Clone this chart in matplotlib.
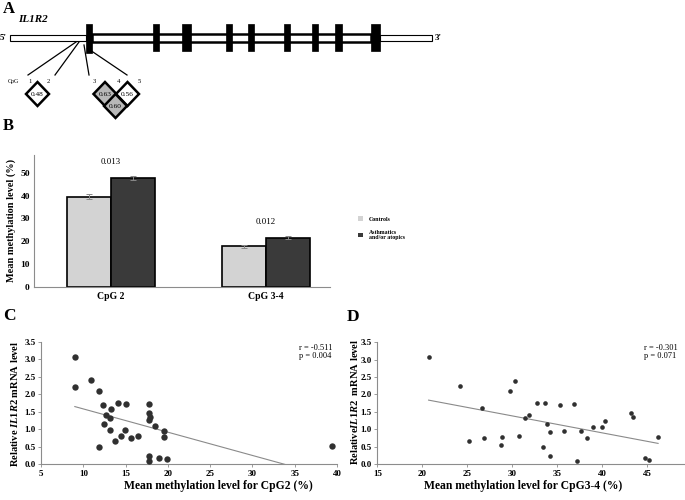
import numpy as np
import matplotlib
matplotlib.use("Agg")
import matplotlib.pyplot as plt
from matplotlib.patches import Rectangle, Polygon

plt.rcParams['font.family'] = ['Liberation Serif', 'DejaVu Serif']
plt.rcParams['mathtext.fontset'] = 'custom'
plt.rcParams['mathtext.it'] = 'Liberation Serif:italic:bold'
plt.rcParams['mathtext.rm'] = 'Liberation Serif:bold'

W, H = 685, 500

# A: gene schematic (pixel layout of the drawing)
exons = [(86, 92), (153, 159), (182, 191), (226, 232), (248, 254),
         (284, 290), (312, 318), (335, 342), (371, 380)]
cpg_sites = ['1', '2', '3', '4', '5']
cpg_label_x = [30, 48, 94, 119, 139]
ld_pairs = [(0, 1), (2, 3), (3, 4), (2, 4)]
ld_values = [0.48, 0.63, 0.56, 0.60]

# B: mean methylation
groups = ['CpG 2', 'CpG 3-4']
controls = [39.6, 17.7]
controls_err = [1.0, 0.8]
asthmatics = [47.8, 21.6]
asthmatics_err = [1.0, 0.7]
p_values = ['0.013', '0.012']

# C: CpG2 vs mRNA
cpg2_meth = [9.0, 9.0, 10.9, 11.8, 11.8, 12.3, 12.5, 12.7, 13.1, 13.3, 13.1, 13.7,
             14.1, 14.5, 14.9, 15.0, 15.7, 16.5, 17.8, 17.8, 17.9, 17.8, 17.8, 17.8,
             18.5, 19.0, 19.6, 19.5, 19.9, 39.4]
cpg2_mrna = [3.06, 2.22, 2.40, 2.10, 0.48, 1.69, 1.16, 1.41, 1.32, 1.59, 0.97, 0.67,
             1.75, 0.79, 0.97, 1.72, 0.74, 0.80, 1.71, 1.47, 1.35, 1.26, 0.24, 0.09,
             1.08, 0.18, 0.96, 0.77, 0.14, 0.53]

# D: CpG3-4 vs mRNA
cpg34_meth = [20.7, 24.2, 26.6, 25.2, 26.9, 28.7, 28.8, 29.7, 30.3, 30.7, 31.4, 31.9,
              32.7, 33.4, 33.6, 33.8, 34.2, 34.2, 35.3, 35.7, 36.9, 37.2, 37.6, 38.3,
              39.0, 40.0, 40.3, 43.2, 43.4, 44.7, 45.2, 46.2]
cpg34_mrna = [3.07, 2.24, 1.60, 0.65, 0.74, 0.54, 0.79, 2.11, 2.40, 0.81, 1.32, 1.41,
              1.74, 0.49, 1.74, 1.15, 0.24, 0.93, 1.70, 0.96, 1.72, 0.10, 0.96, 0.74,
              1.07, 1.06, 1.25, 1.46, 1.35, 0.18, 0.12, 0.79]

fig = plt.figure(figsize=(W / 100, H / 100), dpi=100)


def px_axes(x0, y0, x1, y1):
    return fig.add_axes([x0 / W, 1 - y1 / H, (x1 - x0) / W, (y1 - y0) / H])


# ---- panel A, drawn in pixel space
ax_a = fig.add_axes([0, 0, 1, 1])
ax_a.set_xlim(0, W)
ax_a.set_ylim(H, 0)
ax_a.axis('off')

ax_a.add_patch(Rectangle((10, 35), exons[0][0] - 10, 6, fc='white', ec='black', lw=0.8))
ax_a.add_patch(Rectangle((exons[-1][1], 35), 432 - exons[-1][1], 6, fc='white', ec='black', lw=0.8))
ax_a.add_patch(Rectangle((exons[0][1], 33.8), exons[-1][0] - exons[0][1], 8.4,
                         fc='white', ec='black', lw=1.8))
for i, (x0, x1) in enumerate(exons):
    bottom = 53 if i == 0 else 51
    ax_a.add_patch(Rectangle((x0, 24), x1 - x0, bottom - 24, fc='black', ec='black', lw=0.5))

ax_a.text(3, 9, 'A', fontsize=12, fontweight='bold', va='center')
ax_a.text(18, 19, 'IL1R2', fontsize=8, fontweight='bold', style='italic', va='center')
ax_a.text(0, 38, "5'", fontsize=6.5, fontweight='bold', va='center')
ax_a.text(435, 38, "3'", fontsize=6.5, fontweight='bold', va='center')

for (sx, sy), lx in zip([(76, 42), (79, 42), (84, 45), (90, 50)], [28, 55, 89, 127]):
    ax_a.plot([sx, lx], [sy, 75], color='black', lw=0.9)

ax_a.text(8, 82, 'CpG', fontsize=4.3, va='center')
for lab, lx in zip(cpg_sites, cpg_label_x):
    ax_a.text(lx, 81.5, lab, fontsize=4.8, ha='center', va='center')

hw, hh = 11.5, 12
for (i, j), v in zip(ld_pairs, ld_values):
    cx = (cpg_label_x[i] + cpg_label_x[j]) / 2 - 1.5
    if j - i > 1:
        cx = (cpg_label_x[i] + cpg_label_x[j]) / 2 - 1
    cy = 94 + hh * (j - i - 1)
    fc = '#b8b8b8' if v >= 0.6 else 'white'
    ax_a.add_patch(Polygon([(cx - hw, cy), (cx, cy - hh), (cx + hw, cy), (cx, cy + hh)],
                           closed=True, fc=fc, ec='black', lw=1.8, joinstyle='miter'))
    ax_a.text(cx, cy, f'{v:.2f}', fontsize=5.3, ha='center', va='center')

# ---- panel B
ax_a.text(3, 126, 'B', fontsize=12, fontweight='bold', va='center')
ax_b = px_axes(34, 155, 330, 286.5)
pos = np.arange(len(groups))
bw = 0.285
bars_c = ax_b.bar(pos - bw / 2, controls, bw, color='#d3d3d3', edgecolor='black', lw=1.2,
                  label='Controls', zorder=2)
bars_a = ax_b.bar(pos + bw / 2, asthmatics, bw, color='#3a3a3a', edgecolor='black', lw=1.2,
                  label='Asthmatics\nand/or atopics', zorder=2)
ax_b.errorbar(pos - bw / 2, controls, yerr=controls_err, fmt='none', ecolor='#888888',
              capsize=2, lw=0.7, capthick=0.7, zorder=3)
ax_b.errorbar(pos + bw / 2, asthmatics, yerr=asthmatics_err, fmt='none', ecolor='#888888',
              capsize=2, lw=0.7, capthick=0.7, zorder=3)
for p, c, a, ae, txt in zip(pos, controls, asthmatics, asthmatics_err, p_values):
    ax_b.text(p, max(c, a + ae) + 6.3, txt, fontsize=6.4, ha='center', va='center')
ax_b.set_xlim(-0.498, 1.416)
ax_b.set_ylim(0, 58)
ax_b.set_yticks(range(0, 51, 10))
ax_b.set_xticks(pos)
ax_b.set_xticklabels(groups, fontsize=7, fontweight='bold')
ax_b.tick_params(axis='y', labelsize=6.8, length=0, pad=3)
ax_b.tick_params(axis='x', length=0, pad=4)
for t in ax_b.get_yticklabels():
    t.set_fontweight('bold')
for s in ['top', 'right']:
    ax_b.spines[s].set_visible(False)
for s in ['left', 'bottom']:
    ax_b.spines[s].set_color('#8c8c8c')
    ax_b.spines[s].set_linewidth(0.8)
ax_b.set_ylabel('Mean methylation level (%)', fontsize=7.4, fontweight='bold', labelpad=3)
ax_b.patch.set_alpha(0)

leg = fig.legend(handles=[bars_c, bars_a], loc='upper left',
                 bbox_to_anchor=(353 / W, 1 - 211 / H), frameon=False,
                 prop={'size': 4.2, 'weight': 'bold'}, handlelength=0.8, handleheight=0.8,
                 handletextpad=1.0, labelspacing=1.4)
for h in leg.legend_handles:
    h.set_edgecolor('none')


def scatter_panel(ax, xs, ys, size, xlim, xticks):
    ax.scatter(xs, ys, s=size, color='#303030', zorder=3, lw=0)
    slope, icpt = np.polyfit(xs, ys, 1)
    fx = np.array([min(xs), max(xs)])
    ax.plot(fx, slope * fx + icpt, color='#8a8a8a', lw=0.8, zorder=2)
    ax.set_xlim(*xlim)
    ax.set_ylim(0, 3.5)
    ax.set_xticks(xticks)
    ax.set_yticks(np.arange(0, 3.51, 0.5))
    ax.set_yticklabels([f'{v:.1f}' for v in np.arange(0, 3.51, 0.5)])
    ax.tick_params(labelsize=6.5, length=2.5, width=0.6, color='#8c8c8c', pad=1.5)
    for t in ax.get_xticklabels() + ax.get_yticklabels():
        t.set_fontweight('bold')
    for s in ['top', 'right']:
        ax.spines[s].set_visible(False)
    for s in ['left', 'bottom']:
        ax.spines[s].set_color('#8c8c8c')
        ax.spines[s].set_linewidth(0.8)
    ax.patch.set_alpha(0)


# ---- panel C
ax_a.text(3, 316, 'C', fontsize=12.5, fontweight='bold', va='center')
ax_c = px_axes(41, 342, 337, 464)
scatter_panel(ax_c, cpg2_meth, cpg2_mrna, 21, (5, 40), range(5, 41, 5))
ax_c.text(0.87, 0.985, 'r = -0.511\np = 0.004', transform=ax_c.transAxes, fontsize=6,
          va='top', linespacing=0.95)
fig.text(218 / W, 1 - 486 / H, 'Mean methylation level for CpG2 (%)', fontsize=8.4,
         fontweight='bold', ha='center', va='center')
fig.text(15 / W, 1 - 404 / H, r'Relative $\mathit{IL1R2}$ mRNA level', fontsize=7.6,
         fontweight='bold', rotation=90, ha='center', va='center')

# ---- panel D
ax_a.text(347, 317, 'D', fontsize=12.5, fontweight='bold', va='center')
ax_d = px_axes(377.3, 342.3, 684, 464)
scatter_panel(ax_d, cpg34_meth, cpg34_mrna, 11, (15, 15 + (684 - 377.3) / 9), range(15, 46, 5))
ax_d.text(0.87, 0.985, 'r = -0.301\np = 0.071', transform=ax_d.transAxes, fontsize=6,
          va='top', linespacing=0.95)
fig.text(523 / W, 1 - 486 / H, 'Mean methylation level for CpG3-4 (%)', fontsize=8.4,
         fontweight='bold', ha='center', va='center')
fig.text(355 / W, 1 - 402 / H, r'Relative$\mathit{IL1R2}$  mRNA level', fontsize=7.6,
         fontweight='bold', rotation=90, ha='center', va='center')

fig.savefig('out.png', dpi=100)
